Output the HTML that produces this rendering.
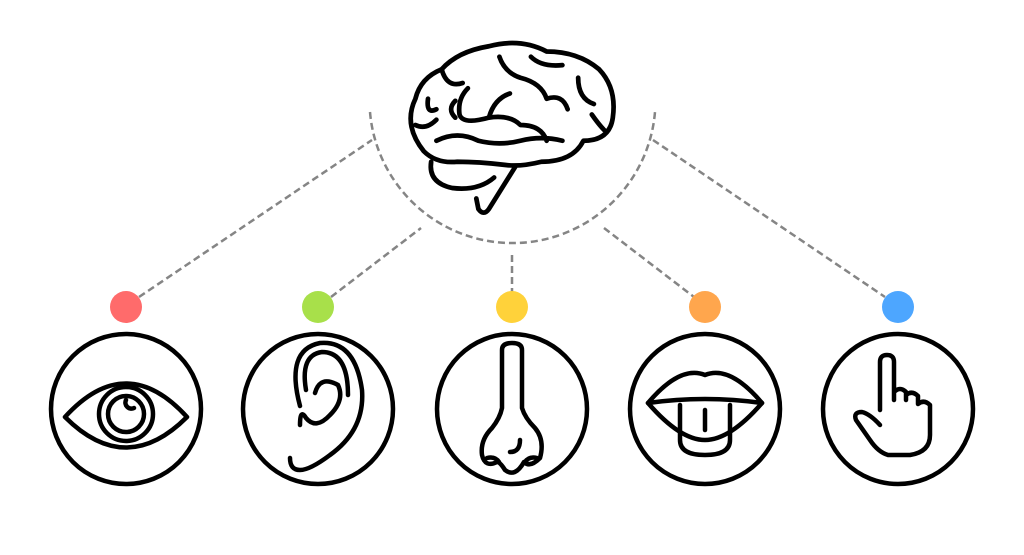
<!DOCTYPE html>
<html><head><meta charset="utf-8"><style>html,body{margin:0;padding:0;background:#fff}svg{display:block}</style></head>
<body>
<svg width="1024" height="555" viewBox="0 0 1024 555" xmlns="http://www.w3.org/2000/svg">
<g fill="none" stroke="#858585" stroke-width="2.5" stroke-dasharray="7,4">
<path d="M370 112 A143 143 0 0 0 655 112"/>
<line x1="139" y1="297" x2="372" y2="140"/>
<line x1="331" y1="297" x2="421" y2="228"/>
<line x1="512" y1="255" x2="512" y2="292"/>
<line x1="604" y1="228" x2="694" y2="297"/>
<line x1="653" y1="140" x2="885" y2="297"/>
</g>
<circle cx="126" cy="307" r="16" fill="#ff6b6b"/>
<circle cx="318" cy="307" r="16" fill="#a8e04a"/>
<circle cx="512" cy="307" r="16" fill="#ffd23a"/>
<circle cx="705" cy="307" r="16" fill="#ffa64d"/>
<circle cx="898" cy="307" r="16" fill="#4da6ff"/>
<g fill="none" stroke="#000" stroke-width="4.5" stroke-linecap="round" stroke-linejoin="round">
<circle cx="126" cy="409" r="75"/>
<circle cx="318" cy="409" r="75"/>
<circle cx="512" cy="409" r="75"/>
<circle cx="705" cy="409" r="75"/>
<circle cx="898" cy="409" r="75"/>
<path d="M65 417 Q126 350 187 417 Q126 478 65 417 Z"/>
<circle cx="126" cy="414" r="27"/>
<circle cx="126" cy="414" r="18"/>
<path d="M126 400 a6 6 0 0 0 8 8"/>
<path d="M300 406 Q285 350 320 343 Q355 340 362 390 Q365 430 330 455 Q310 470 300 470 Q290 470 290 458"/>
<path d="M306 390 Q300 355 322 352 Q348 352 348 395"/>
<path d="M315 393 Q320 375 338 385 Q345 400 330 415 Q316 430 306 418 Q300 408 300 425"/>
<path d="M502 350 Q502 343 512 343 Q522 343 522 350 L522 408 Q525 418 535 428 Q545 440 540 458 Q530 468 524 462 Q515 478 505 470 Q500 462 497 462 Q485 468 482 455 Q480 440 492 428 Q500 418 502 408 Z"/>
<path d="M487 458 Q495 456 499 462"/><path d="M537 458 Q529 456 525 462"/>
<path d="M520 440 Q520 452 510 452"/>
<path d="M648 403 Q680 365 705 375 Q730 365 762 403 Q730 440 705 440 Q680 440 648 403 Z"/>
<path d="M648 403 Q705 395 762 403"/>
<path d="M680 405 L680 440 Q680 455 705 455 Q730 455 730 440 L730 405"/>
<path d="M705 410 L705 430"/>
<path d="M880 410 L880 362 Q880 355 887 355 Q894 355 894 362 L894 400 L894 392 Q900 386 906 392 L906 400 L906 395 Q912 390 918 396 L918 404 Q924 399 930 405 L930 435 Q930 452 910 455 L888 455 Q878 452 870 440 L856 420 Q853 412 862 412 Q870 414 880 425"/>
</g>
<g fill="none" stroke="#000" stroke-width="4.5" stroke-linecap="round" stroke-linejoin="round" transform="translate(512 125) scale(1.05) translate(-512 -125)">
<path d="M428 150 Q408 125 420 100 Q425 80 445 72 Q460 55 490 50 Q520 42 545 55 Q575 55 595 72 Q612 90 608 118 Q605 140 580 140 Q570 160 540 160 Q520 165 505 163 Q480 160 460 160 Q440 162 428 150 Z"/>
<path d="M435 160 Q432 180 455 185 Q480 188 495 175"/>
<path d="M515 165 L490 205 Q485 212 480 205 L478 195"/>
<path d="M420 125 Q430 130 440 120 M432 100 Q430 115 440 110 M445 72 Q450 90 465 85 M470 90 Q460 100 462 115 Q465 125 490 118 Q510 115 520 125 M490 118 Q495 100 510 95 M500 60 Q505 75 520 80 Q540 85 545 100 M545 100 Q560 95 565 110 M575 80 Q575 100 590 105 M530 60 Q540 70 560 68 M588 115 Q595 125 600 130 M440 140 Q460 130 480 140 Q500 145 520 140 Q540 135 560 140 M520 125 Q540 125 545 140 M458 102 Q450 110 458 118"/>
</g>
</svg>
</body></html>
